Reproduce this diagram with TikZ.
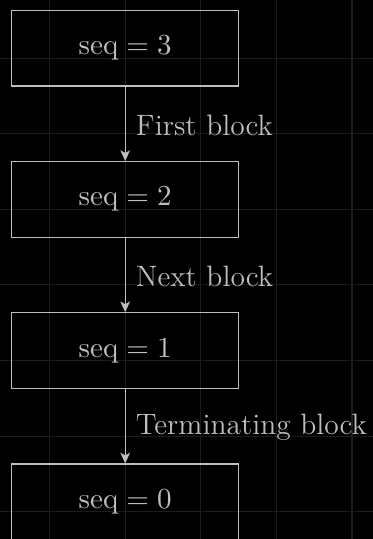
\documentclass[tikz,border=0pt]{standalone}
\usetikzlibrary{arrows.meta}
\definecolor{ink}{HTML}{BEBEBE}
\definecolor{gridline}{HTML}{1C1C1C}
\tikzset{
  block/.style={draw=ink, line width=0.5pt, minimum width=3cm, minimum height=1cm,
    inner sep=0pt, text=ink, font=\fontsize{11.2}{13}\selectfont},
  link/.style={draw=ink, line width=0.5pt, -{Stealth[length=4pt,width=3.6pt,inset=1pt]}},
  linklabel/.style={text=ink, font=\fontsize{11.1}{13}\selectfont, right, inner sep=3.8pt, yshift=-0.5pt}
}
\begin{document}
\begin{tikzpicture}
  % page area and background
  \fill[black] (-1.656,-6.492) rectangle (3.278,0.638);
  \useasboundingbox (-1.656,-6.492) rectangle (3.278,0.638);
  \begin{scope}
    \clip (-1.656,-6.492) rectangle (3.278,0.638);
    \draw[gridline, line width=0.4pt, shift={(0,-0.13)}] (-3,-8) grid (5,2);
  \end{scope}

  % chain of blocks
  \node[block] (b3) at (0,0)  {$\mathrm{seq} = 3$};
  \node[block] (b2) at (0,-2) {$\mathrm{seq} = 2$};
  \node[block] (b1) at (0,-4) {$\mathrm{seq} = 1$};
  \node[block] (b0) at (0,-6) {$\mathrm{seq} = 0$};

  \draw[link] (b3.south) -- node[linklabel] {First block} (b2.north);
  \draw[link] (b2.south) -- node[linklabel] {Next block} (b1.north);
  \draw[link] (b1.south) -- node[linklabel] {Terminating block} (b0.north);
\end{tikzpicture}
\end{document}
